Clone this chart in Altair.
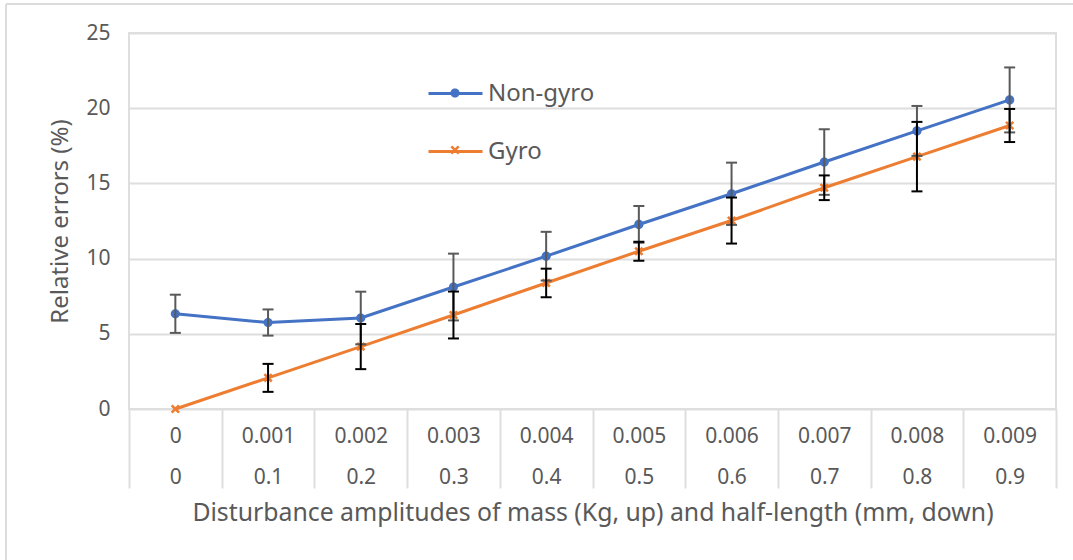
import altair as alt
import pandas as pd

# ---- data ----
mass = ["0", "0.001", "0.002", "0.003", "0.004", "0.005", "0.006", "0.007", "0.008", "0.009"]
half = ["0", "0.1", "0.2", "0.3", "0.4", "0.5", "0.6", "0.7", "0.8", "0.9"]
nongyro = [6.33, 5.75, 6.05, 8.11, 10.16, 12.27, 14.31, 16.42, 18.49, 20.55]
nongyro_err = [1.27, 0.87, 1.75, 2.22, 1.62, 1.22, 2.07, 2.18, 1.66, 2.16]
gyro = [0.0, 2.07, 4.15, 6.25, 8.38, 10.49, 12.53, 14.71, 16.78, 18.85]
gyro_err = [0.0, 0.93, 1.50, 1.56, 0.95, 0.63, 1.53, 0.82, 2.31, 1.10]
series = ["Non-gyro", "Gyro"]
line_colors = ["#4472C4", "#ED7D31"]
bar_colors = ["#595959", "#000000"]

FONT = "Noto Sans"
TXT = "#595959"
GRID = "#dedede"

cats = [m + "|" + h for m, h in zip(mass, half)]
rows = []
for name, vals, errs in [(series[0], nongyro, nongyro_err), (series[1], gyro, gyro_err)]:
    for c, v, e in zip(cats, vals, errs):
        rows.append({"Cat": c, "Series": name, "Marker": name + " marker",
                     "value": v, "err": e, "lo": v - e, "hi": v + e})
df = pd.DataFrame(rows)
err_df = df[df["err"] > 0]

markers = ["Non-gyro marker", "Gyro marker"]
circle_path = "M-0.17,0A0.17,0.17,0,1,1,0.17,0A0.17,0.17,0,1,1,-0.17,0Z"
x_path = ("M-0.17,-0.102L-0.102,-0.17L0,-0.068L0.102,-0.17L0.17,-0.102L0.068,0"
          "L0.17,0.102L0.102,0.17L0,0.068L-0.102,0.17L-0.17,0.102L-0.068,0Z")
SYM = 2916

x_enc = alt.X(
    "Cat:N", sort=cats,
    scale=alt.Scale(paddingInner=0, paddingOuter=0),
    axis=alt.Axis(
        title="Disturbance amplitudes of mass  (Kg, up) and half-length (mm, down)",
        labelExpr="isValid(datum.value) ? split(datum.value, '|') : ''",
        labelAngle=0, labelBaseline="top",
        tickBand="extent", tickSize=79, tickColor=GRID, tickWidth=2,
        domain=False, grid=False, labelPadding=-63, labelLineHeight=41,
        labelFontSize=21, labelColor=TXT, labelFont=FONT, labelLimit=0,
        titleFontSize=24.8, titleColor=TXT, titleFont=FONT, titlePadding=11,
        titleFontWeight="normal",
    ),
)

y_axis = alt.Axis(
    values=[0, 5, 10, 15, 20, 25], title="Relative errors (%)",
    grid=True, gridColor=GRID, gridWidth=2, domain=False, ticks=False,
    labelPadding=19, labelFontSize=21, labelColor=TXT, labelFont=FONT,
    titleFontSize=24, titleColor=TXT, titleFont=FONT, titlePadding=13,
    titleFontWeight="normal",
)
y_scale = alt.Scale(domain=[0, 25], nice=False)

legend_common = dict(
    title=None, orient="none", legendX=298, legendY=32, padding=0,
    symbolSize=SYM, rowPadding=17, labelOffset=4, labelFontSize=24,
    labelColor=TXT, labelFont=FONT,
)

base = alt.Chart(df)

lines = base.mark_line(strokeWidth=3).encode(
    x=x_enc,
    y=alt.Y("value:Q", scale=y_scale, axis=y_axis),
    color=alt.Color(
        "Series:N", scale=alt.Scale(domain=series, range=line_colors),
        legend=alt.Legend(symbolType="M-1,0L1,0", symbolStrokeWidth=3, **legend_common),
    ),
)

points = base.mark_point(filled=True, size=SYM, opacity=1).encode(
    x=x_enc,
    y=alt.Y("value:Q", scale=y_scale, axis=y_axis),
    fill=alt.Fill(
        "Marker:N", scale=alt.Scale(domain=markers, range=line_colors),
        legend=alt.Legend(labelExpr="''", **legend_common),
    ),
    shape=alt.Shape(
        "Marker:N", scale=alt.Scale(domain=markers, range=[circle_path, x_path]),
        legend=alt.Legend(labelExpr="''", **legend_common),
    ),
)


def error_layers(name, colour):
    src = alt.Chart(err_df).transform_filter(alt.datum.Series == name)
    bar = src.mark_rule(strokeWidth=2, color=colour).encode(
        x=x_enc,
        y=alt.Y("lo:Q", scale=y_scale, axis=y_axis),
        y2="hi:Q",
    )
    caps = src.transform_fold(["lo", "hi"], as_=["end", "cap"]).mark_tick(
        size=11, thickness=2, color=colour, opacity=1
    ).encode(
        x=x_enc,
        y=alt.Y("cap:Q", scale=y_scale, axis=y_axis),
    )
    return [bar, caps]


err_nongyro = error_layers(series[0], bar_colors[0])
err_gyro = error_layers(series[1], bar_colors[1])

# light outer frame of the figure
frame_data = alt.Data(values=[{"k": 1}])
frame_top = alt.Chart(frame_data).mark_rule(color="#dcdcdc", strokeWidth=2).encode(
    x=alt.value(-123), x2=alt.value(960), y=alt.value(-29))
frame_left = alt.Chart(frame_data).mark_rule(color="#dcdcdc", strokeWidth=2).encode(
    x=alt.value(-123), y=alt.value(-29), y2=alt.value(540))

chart = alt.layer(
    frame_top, frame_left, lines, points, *err_nongyro, *err_gyro
).properties(
    width=927, height=376,
    autosize=alt.AutoSizeParams(type="none"),
    padding={"left": 129, "top": 33, "right": 17, "bottom": 151},
    background="white",
).configure_view(
    stroke=GRID, strokeWidth=2
)

chart.save("out.html", embed_options={"renderer": "svg", "actions": False})
